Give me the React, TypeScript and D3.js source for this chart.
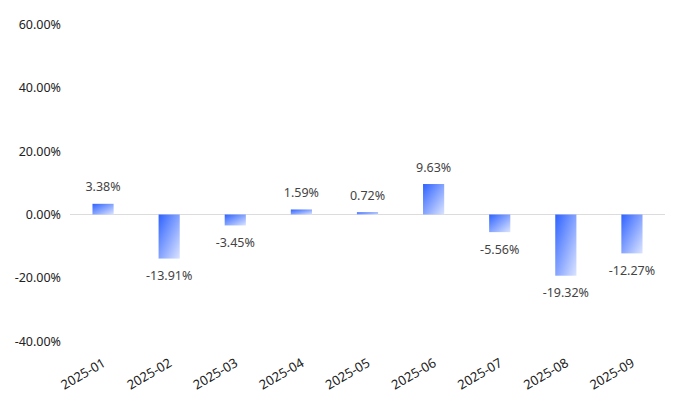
import React from "react";
import * as d3 from "d3";

const categories = ["2025-01", "2025-02", "2025-03", "2025-04", "2025-05", "2025-06", "2025-07", "2025-08", "2025-09"];
const values = [3.38, -13.91, -3.45, 1.59, 0.72, 9.63, -5.56, -19.32, -12.27];
const yTicks = [-40, -20, 0, 20, 40, 60];

const W = 680, H = 407;
const left = 70, right = 665, top = 24.5, bottom = 341.2;
const font = "'Noto Sans', 'Open Sans', sans-serif";

export default function App() {
  const x = d3.scaleBand<string>().domain(categories).range([left, right]).paddingInner(0).paddingOuter(0);
  const y = d3.scaleLinear().domain([-40, 60]).range([bottom, top]);
  const bw = x.bandwidth() * 0.32;
  return (
    <svg width={W} height={H} style={{ position: "absolute", left: 0, top: 0, fontFamily: font }}>
      <defs>
        <linearGradient id="barGrad" x1="0" y1="0" x2="1" y2="1">
          <stop offset="0%" stopColor="#2e62ff" />
          <stop offset="100%" stopColor="#dbe4ff" />
        </linearGradient>
      </defs>
      {yTicks.map((t) => (
        <text key={t} x={61} y={y(t)} textAnchor="end" dominantBaseline="central" fontSize={12.5} fill="#222">
          {t.toFixed(2) + "%"}
        </text>
      ))}
      <line x1={left} x2={right} y1={y(0)} y2={y(0)} stroke="#dcdcdc" strokeWidth={1} />
      {categories.map((c, i) => {
        const v = values[i];
        const cx = x(c)! + x.bandwidth() / 2;
        const y0 = y(0), y1 = y(v);
        return (
          <g key={c}>
            <rect x={cx - bw / 2} y={Math.min(y0, y1)} width={bw} height={Math.abs(y1 - y0)} fill="url(#barGrad)" />
            <text x={cx} y={v >= 0 ? y1 - 17 : y1 + 17} textAnchor="middle" dominantBaseline="central" fontSize={12.5} fill="#444">
              {v.toFixed(2) + "%"}
            </text>
            <text transform={`translate(${cx + 1},${bottom + 20}) rotate(-30)`} textAnchor="end" dominantBaseline="central" fontSize={13} fill="#222">
              {c}
            </text>
          </g>
        );
      })}
    </svg>
  );
}
